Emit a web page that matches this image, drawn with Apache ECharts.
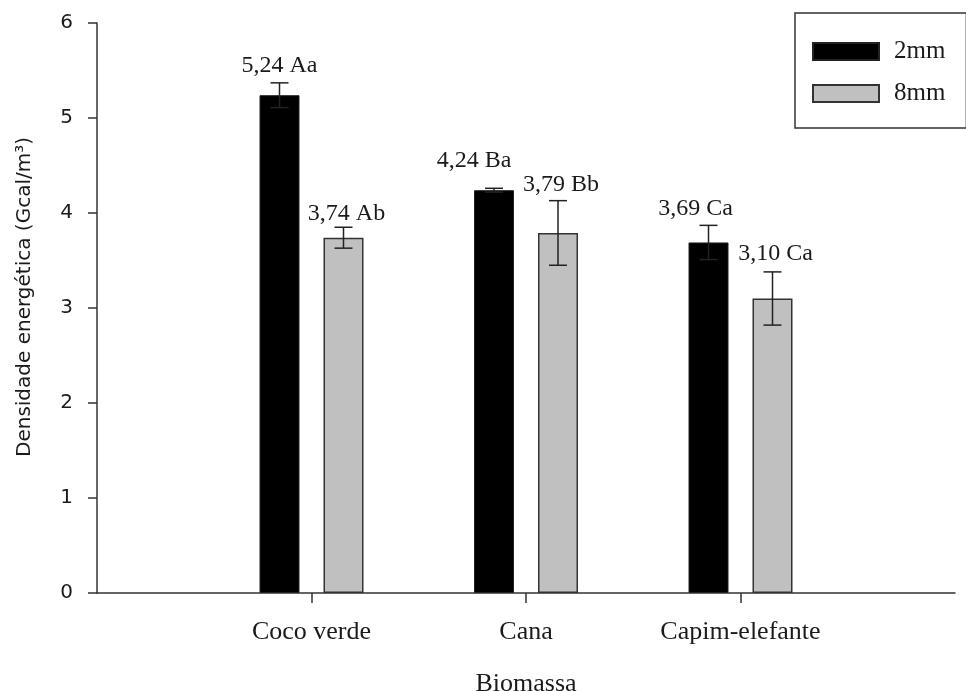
<!DOCTYPE html>
<html><head><meta charset="utf-8">
<script src="https://cdn.jsdelivr.net/npm/echarts@6/dist/echarts.min.js"></script>
<style>html,body{margin:0;padding:0;background:#fff}#c{width:966px;height:691px}</style>
</head><body><div id="c"></div>
<script>
// ---- data ----
const categories = ['Coco verde', 'Cana', 'Capim-elefante'];
const seriesNames = ['2mm', '8mm'];
const values2mm = [5.24, 4.24, 3.69];
const values8mm = [3.74, 3.79, 3.10];
const err2mm = [0.13, 0.02, 0.18];
const err8mm = [0.11, 0.34, 0.28];
const labels2mm = ['5,24 Aa', '4,24 Ba', '3,69 Ca'];
const labels8mm = ['3,74 Ab', '3,79 Bb', '3,10 Ca'];
const yTicks = [0, 1, 2, 3, 4, 5, 6];

// ---- style ----
const BAR_W = 40, BAR_GAP = 24;
const OFFSET = (BAR_W + BAR_GAP) / 2;
const labelShift2mm = [[0, 1], [-20, -10], [-13, 1]];
const labelShift8mm = [[3, 4], [3, 2], [3, 0]];
const SERIF = '"Liberation Serif", "Times New Roman", serif';
const SANS = '"DejaVu Sans", sans-serif';
const INK = '#1a1a1a';

const axisCats = [''].concat(categories, ['']);
const padData = arr => ['-'].concat(arr, ['-']);

function errSeries(values, errs, labels, shifts, sign) {
  return {
    type: 'custom', z: 5, silent: true,
    data: values.map((v, i) => [i + 1, v, errs[i], i]),
    renderItem(params, api) {
      const x = api.value(0), v = api.value(1), e = api.value(2), i = api.value(3);
      const top = api.coord([x, v + e]);
      const bot = api.coord([x, v - e]);
      const cx = top[0] + sign * OFFSET;
      const sh = shifts[i];
      const ls = { stroke: '#222', lineWidth: 1.5 };
      return {
        type: 'group', children: [
          { type: 'line', shape: { x1: cx, y1: top[1], x2: cx, y2: bot[1] }, style: ls },
          { type: 'line', shape: { x1: cx - 9, y1: top[1], x2: cx + 9, y2: top[1] }, style: ls },
          { type: 'line', shape: { x1: cx - 9, y1: bot[1], x2: cx + 9, y2: bot[1] }, style: ls },
          { type: 'text', x: cx + sh[0], y: top[1] - 6 + sh[1],
            style: { text: labels[i], font: '24px ' + SERIF, fill: INK, align: 'center', verticalAlign: 'bottom' } }
        ]
      };
    }
  };
}

const chart = echarts.init(document.getElementById('c'), null, { renderer: 'canvas' });
chart.setOption({
  animation: false,
  backgroundColor: '#fff',
  grid: { left: 97, right: 11, top: 23, bottom: 98, containLabel: false, outerBoundsMode: 'none' },
  legend: {
    data: seriesNames, orient: 'vertical', left: 795, top: 13,
    padding: [26, 21, 22, 17], borderColor: '#333', borderWidth: 1.5,
    itemWidth: 66, itemHeight: 17, itemGap: 17, icon: 'rect',
    textStyle: { fontFamily: SERIF, fontSize: 25, color: INK, padding: [0, 0, 0, 10] }
  },
  xAxis: {
    type: 'category', data: axisCats, boundaryGap: false,
    name: 'Biomassa', nameLocation: 'middle', nameGap: 78,
    nameTextStyle: { fontFamily: SERIF, fontSize: 26, color: INK },
    axisLine: { lineStyle: { color: '#333', width: 1.5 } },
    axisTick: { show: true, length: 10, interval: (i) => i > 0 && i < axisCats.length - 1, lineStyle: { color: '#333', width: 1.5 } },
    axisLabel: { interval: 0, margin: 26, fontFamily: SERIF, fontSize: 26, color: INK },
    splitLine: { show: false }
  },
  yAxis: {
    type: 'value', min: yTicks[0], max: yTicks[yTicks.length - 1], interval: 1,
    name: 'Densidade energética (Gcal/m³)', nameLocation: 'middle', nameRotate: 90, nameGap: 62,
    nameTextStyle: { fontFamily: SANS, fontSize: 20, color: INK, padding: [0, 0, 0, 22] },
    axisLine: { show: true, lineStyle: { color: '#333', width: 1.5 } },
    axisTick: { show: true, length: 9, lineStyle: { color: '#333', width: 1.5 } },
    axisLabel: { margin: 24, fontFamily: SANS, fontSize: 20, color: INK },
    splitLine: { show: false }
  },
  series: [
    { name: seriesNames[0], type: 'bar', data: padData(values2mm), barWidth: BAR_W, barGap: (BAR_GAP / BAR_W * 100) + '%',
      itemStyle: { color: '#000', borderColor: '#222', borderWidth: 1 } },
    { name: seriesNames[1], type: 'bar', data: padData(values8mm), barWidth: BAR_W,
      itemStyle: { color: '#c0c0c0', borderColor: '#333', borderWidth: 1.5 } },
    errSeries(values2mm, err2mm, labels2mm, labelShift2mm, -1),
    errSeries(values8mm, err8mm, labels8mm, labelShift8mm, 1)
  ]
});
</script></body></html>
